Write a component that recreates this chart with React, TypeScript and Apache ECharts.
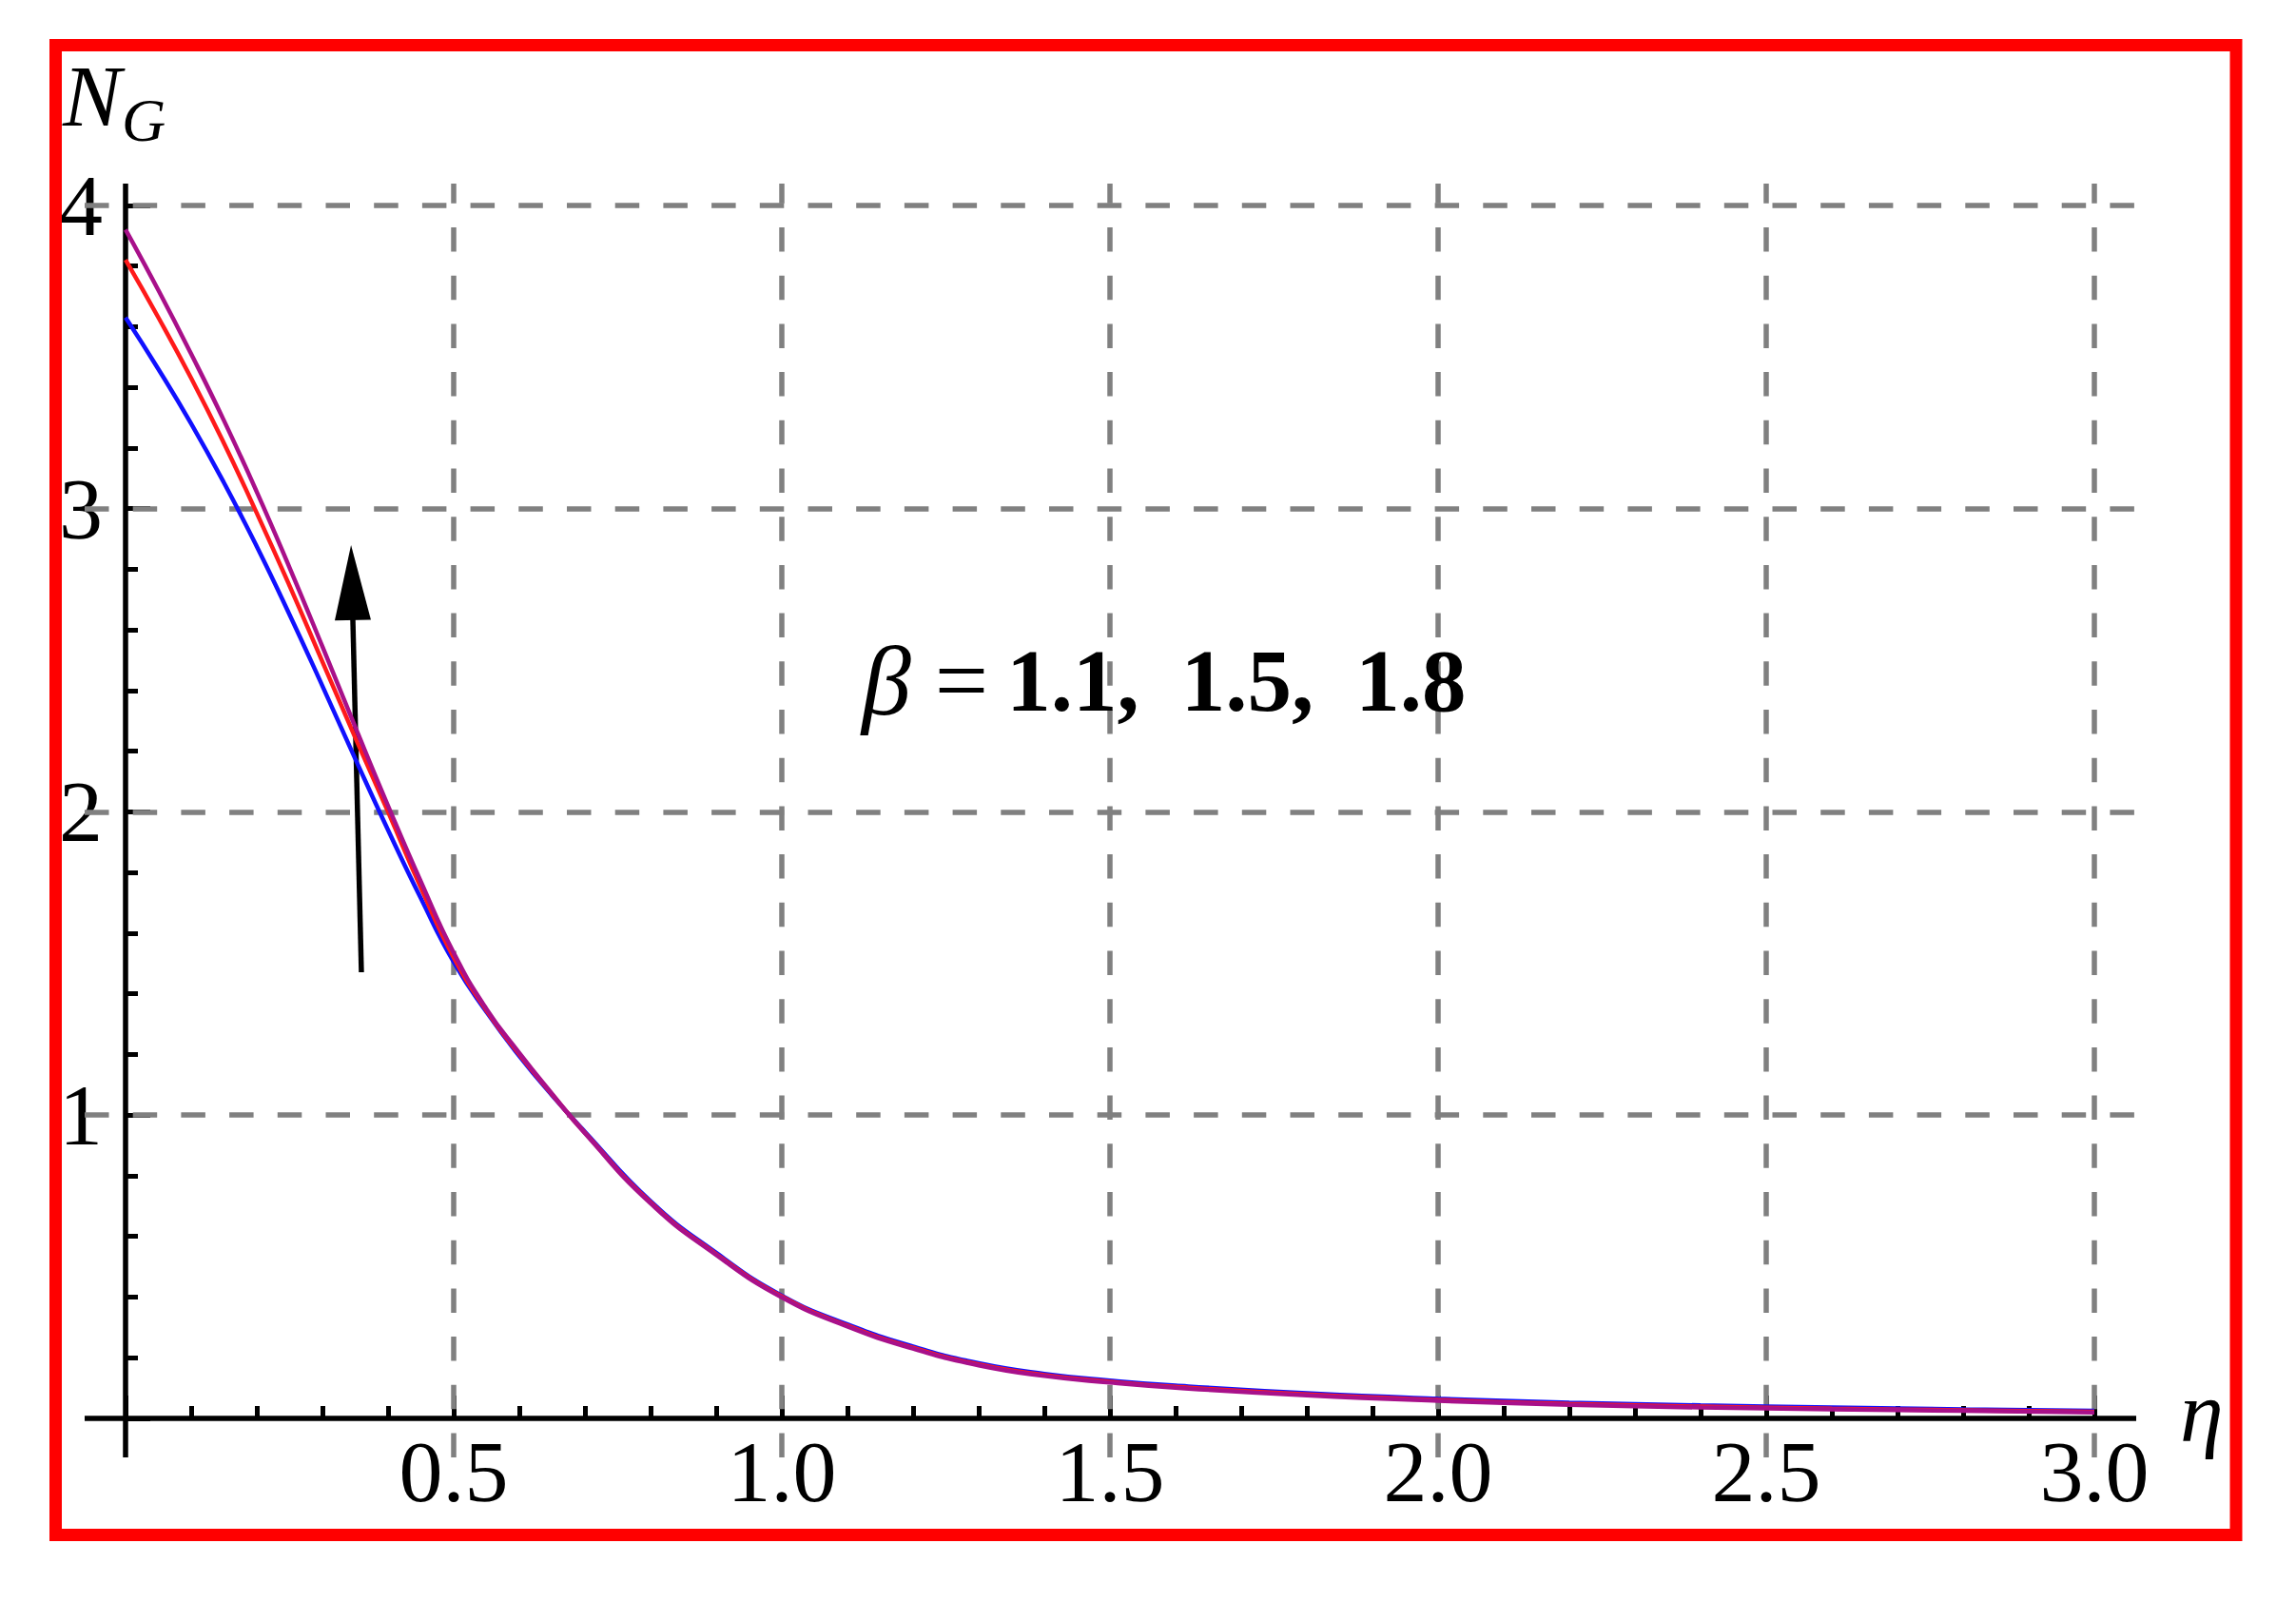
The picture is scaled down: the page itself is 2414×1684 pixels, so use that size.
import React, { useEffect, useRef } from 'react';
import * as echarts from 'echarts';

// η sample positions
const etaValues = [0, 0.05, 0.1, 0.15, 0.2, 0.25, 0.3, 0.35, 0.4, 0.45, 0.5, 0.55, 0.6, 0.65, 0.7, 0.8, 0.9, 1.0, 1.1, 1.2, 1.3, 1.4, 1.5, 1.6, 1.8, 2.0, 2.2, 2.4, 2.6, 2.8, 3.0];
// N_G for β = 1.1 (blue)
const ngBeta11 = [3.63, 3.46, 3.28, 3.085, 2.875, 2.65, 2.415, 2.175, 1.94, 1.715, 1.505, 1.34, 1.195, 1.065, 0.945, 0.716, 0.546, 0.405, 0.31, 0.237, 0.182, 0.147, 0.125, 0.108, 0.083, 0.065, 0.052, 0.043, 0.036, 0.03, 0.025];
// N_G for β = 1.5 (red)
const ngBeta15 = [3.82, 3.63, 3.43, 3.215, 2.985, 2.745, 2.495, 2.245, 2.0, 1.75, 1.52, 1.345, 1.2, 1.068, 0.942, 0.712, 0.542, 0.402, 0.306, 0.233, 0.178, 0.143, 0.121, 0.104, 0.079, 0.061, 0.048, 0.039, 0.032, 0.027, 0.022];
// N_G for β = 1.8 (purple)
const ngBeta18 = [3.92, 3.72, 3.51, 3.29, 3.055, 2.805, 2.545, 2.28, 2.02, 1.77, 1.535, 1.35, 1.205, 1.07, 0.94, 0.709, 0.539, 0.399, 0.303, 0.23, 0.175, 0.14, 0.118, 0.101, 0.076, 0.058, 0.045, 0.036, 0.03, 0.025, 0.02];

const seriesNames = ['β = 1.1', 'β = 1.5', 'β = 1.8'];
const seriesColors = ['#1010ff', '#ff1a1a', '#a8108a'];

// grid lines and axes
const gridXValues = [0.5, 1.0, 1.5, 2.0, 2.5, 3.0];
const gridYValues = [1, 2, 3, 4];
// arrow annotation (tail -> head centre), in data units
const arrowTail = [0.3594, 1.471];
const arrowHead = [0.345, 2.756];

// plot ranges (Mathematica-like padding beyond data range)
const X_MIN = -0.0623;
const X_MAX = 3.0638;
const Y_MIN = -0.1286;
const Y_MAX = 4.0715;

const FONT = '"Liberation Serif", "Times New Roman", serif';

export default function App() {
  const ref = useRef<HTMLDivElement>(null);

  useEffect(() => {
    if (!ref.current) return;
    const chart = echarts.init(ref.current, undefined, { renderer: 'svg' });

    const toPairs = (ys: number[]) => etaValues.map((x, i) => [x, ys[i]]);
    const curves = [ngBeta11, ngBeta15, ngBeta18].map((ys, i) => ({
      name: seriesNames[i],
      type: 'line',
      xAxisIndex: 0,
      yAxisIndex: 0,
      data: toPairs(ys),
      showSymbol: false,
      smooth: 0.5,
      silent: true,
      z: 5,
      lineStyle: { color: seriesColors[i], width: 4.5 },
      itemStyle: { color: seriesColors[i] },
    }));

    const option: any = {
      animation: false,
      backgroundColor: '#ffffff',
      grid: [
        { left: 89, right: 168, top: 193, bottom: 152 },
        { left: 132, right: 212, top: 215.8, bottom: 193 },
      ],
      xAxis: [
        { type: 'value', gridIndex: 0, min: X_MIN, max: X_MAX, show: false },
        {
          type: 'value', gridIndex: 1, min: 0, max: 3, interval: 0.5, z: 4,
          axisLine: { show: false },
          splitLine: { show: false },
          axisTick: { show: true, inside: true, length: 24, lineStyle: { color: '#000', width: 5 } },
          minorTick: { show: true, splitNumber: 5, length: 13, lineStyle: { color: '#000', width: 5 } },
          axisLabel: {
            formatter: (v: number) => (v === 0 ? '' : v.toFixed(1)),
            margin: 10, fontSize: 92, fontFamily: FONT, color: '#000',
          },
        },
      ],
      yAxis: [
        { type: 'value', gridIndex: 0, min: Y_MIN, max: Y_MAX, show: false },
        {
          type: 'value', gridIndex: 1, min: 0, max: 4, interval: 1, z: 4,
          axisLine: { show: false },
          splitLine: { show: false },
          axisTick: { show: true, inside: true, length: 26, lineStyle: { color: '#000', width: 5 } },
          minorTick: { show: true, splitNumber: 5, length: 13, lineStyle: { color: '#000', width: 5 } },
          axisLabel: {
            formatter: (v: number) => (v === 0 ? '' : String(v)),
            margin: 24, fontSize: 92, fontFamily: FONT, color: '#000',
          },
        },
      ],
      series: [
        {
          name: 'gridlines', type: 'line', xAxisIndex: 0, yAxisIndex: 0, data: [], silent: true, z: 1,
          markLine: {
            silent: true, symbol: 'none', label: { show: false }, animation: false,
            lineStyle: { color: '#808080', width: 5.5, type: [25.5, 25.2] },
            emphasis: { disabled: true },
            data: [...gridXValues.map((v) => ({ xAxis: v })), ...gridYValues.map((v) => ({ yAxis: v }))],
          },
        },
        {
          name: 'axes', type: 'line', xAxisIndex: 0, yAxisIndex: 0, data: [], silent: true, z: 3,
          markLine: {
            silent: true, symbol: 'none', label: { show: false }, animation: false,
            lineStyle: { color: '#000', width: 5.5, type: 'solid' },
            emphasis: { disabled: true },
            data: [{ xAxis: 0 }, { yAxis: 0 }],
          },
        },
        ...curves,
        {
          name: 'arrow', type: 'line', xAxisIndex: 0, yAxisIndex: 0, data: [], silent: true, z: 6,
          markLine: {
            silent: true, symbol: ['none', 'triangle'], symbolSize: [38, 79], label: { show: false }, animation: false,
            lineStyle: { color: '#000', width: 5.5, type: 'solid' },
            emphasis: { disabled: true },
            data: [[{ coord: arrowTail }, { coord: arrowHead }]],
          },
        },
      ],
      graphic: [
        {
          type: 'rect', z: 50,
          shape: { x: 58.5, y: 47.5, width: 2292.5, height: 1566 },
          style: { fill: 'none', stroke: '#ff0000', lineWidth: 13 },
        },
        {
          type: 'text', x: 66, y: 101, z: 50,
          style: { text: 'N', font: `italic 92px ${FONT}`, fill: '#000', verticalAlign: 'middle', align: 'left' },
        },
        {
          type: 'text', x: 128, y: 126, z: 50,
          style: { text: 'G', font: `italic 64px ${FONT}`, fill: '#000', verticalAlign: 'middle', align: 'left' },
        },
        {
          type: 'text', x: 2292, y: 1484, z: 50,
          style: { text: 'η', font: `italic 92px ${FONT}`, fill: '#000', verticalAlign: 'middle', align: 'left' },
        },
        {
          type: 'text', x: 906, y: 715, z: 50,
          style: {
            text: '{b|β}{e|=}{n|1.1,}{m|1.5,}{m|1.8}',
            verticalAlign: 'middle', align: 'left',
            rich: {
              b: { font: `italic 104px ${FONT}`, fill: '#000' },
              e: { font: `100px ${FONT}`, fill: '#000', padding: [0, 19, 0, 25] },
              n: { font: `bold 93px ${FONT}`, fill: '#000' },
              m: { font: `bold 93px ${FONT}`, fill: '#000', padding: [0, 0, 0, 44] },
            },
          },
        },
      ],
    };

    chart.setOption(option);
    return () => chart.dispose();
  }, []);

  return (
    <div
      ref={ref}
      style={{ position: 'absolute', left: 0, top: 0, width: 2414, height: 1684, background: '#fff' }}
    />
  );
}
